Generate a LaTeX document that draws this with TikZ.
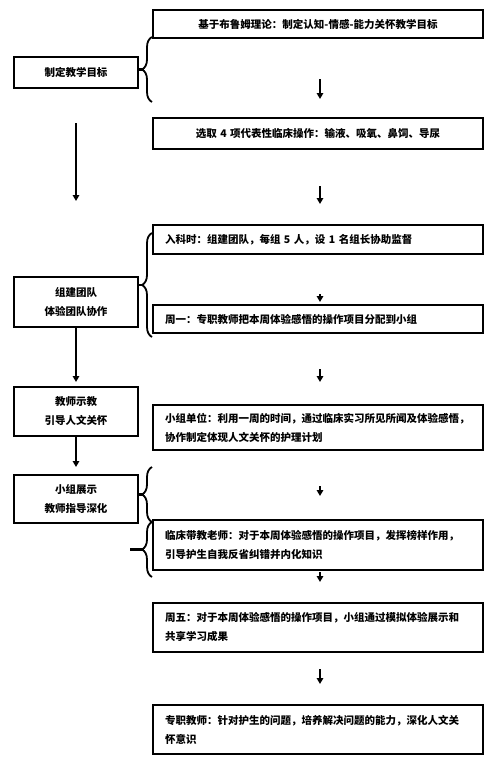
\documentclass[tikz,border=0pt]{standalone}
\usepackage{fontspec}
\setmainfont{Noto Sans CJK SC}
\usetikzlibrary{arrows.meta,decorations.pathreplacing}

\begin{document}
\begin{tikzpicture}[
    x=1pt,y=-1pt,
    >={Triangle[length=6pt,width=6.5pt]},
    box/.style={rectangle,draw,line width=2pt,inner ysep=0pt},
    rbox/.style={box,text width=306pt,inner xsep=12pt,align=left},
    cbox/.style={rbox,align=center},
    lbox/.style={box,minimum width=124pt,align=center},
    arr/.style={->,line width=1.8pt},
    brc/.style={decorate,decoration={brace,amplitude=10pt},line width=1.8pt},
    stub/.style={line width=2.2pt},
    every node/.style={font=\fontsize{10.5}{19}\selectfont\bfseries}]
  \useasboundingbox (0,0) rectangle (495,761);
  % ---- right column: steps ----
  \node[cbox,minimum height=28pt] (r1) at (318,24) {基于布鲁姆理论：制定认知-情感-能力关怀教学目标};
  \node[cbox,minimum height=31pt] (r2) at (318,133.5) {选取 4 项代表性临床操作：输液、吸氧、鼻饲、导尿};
  \node[rbox,minimum height=29pt] (r3) at (318,239.5) {入科时：组建团队，每组 5 人，设 1 名组长协助监督};
  \node[rbox,minimum height=28pt] (r4) at (318,319) {周一：专职教师把本周体验感悟的操作项目分配到小组};
  \node[rbox,minimum height=45pt] (r5) at (318,427.5) {小组单位：利用一周的时间，通过临床实习所见所闻及体验感悟，\\协作制定体现人文关怀的护理计划};
  \node[rbox,minimum height=50pt] (r6) at (318,545) {临床带教老师：对于本周体验感悟的操作项目，发挥榜样作用，\\引导护生自我反省纠错并内化知识};
  \node[rbox,minimum height=49pt] (r7) at (318,627.5) {周五：对于本周体验感悟的操作项目，小组通过模拟体验展示和\\共享学习成果};
  \node[rbox,minimum height=49pt] (r8) at (318,729.5) {专职教师：针对护生的问题，培养解决问题的能力，深化人文关\\怀意识};
  % ---- left column: stages ----
  \node[lbox,minimum height=31pt] (l1) at (76,72.5) {制定教学目标};
  \node[lbox,minimum height=50pt] (l2) at (76,302) {组建团队\\体验团队协作};
  \node[lbox,minimum height=49pt] (l3) at (76,411.5) {教师示教\\引导人文关怀};
  \node[lbox,minimum height=48pt] (l4) at (76,499) {小组展示\\教师指导深化};
  % right arrows (floating between boxes)
  \draw[arr] ([xshift=2pt,yshift=-40pt]r1.south) -- ([xshift=2pt,yshift=18pt]r2.north);
  \draw[arr] ([xshift=2pt,yshift=-36pt]r2.south) -- ([xshift=2pt,yshift=20pt]r3.north);
  \draw[arr] ([xshift=2pt,yshift=-39pt]r3.south) -- ([xshift=2pt,yshift=2pt]r4.north);
  \draw[arr] ([xshift=2pt,yshift=-35pt]r4.south) -- ([xshift=2pt,yshift=22pt]r5.north);
  \draw[arr] ([xshift=2pt,yshift=-35pt]r5.south) -- ([xshift=2pt,yshift=23pt]r6.north);
  \draw[arr] ([xshift=2pt,yshift=-1pt]r6.south) -- ([xshift=2pt,yshift=20pt]r7.north);
  \draw[arr] ([xshift=2pt,yshift=-16pt]r7.south) -- ([xshift=2pt,yshift=20pt]r8.north);
  % left arrows
  \draw[arr] ([yshift=-34pt]l1.south) -- ([yshift=75pt]l2.north);
  \draw[arr] (l2.south) -- ([yshift=4pt]l3.north);
  \draw[arr] (l3.south) -- ([yshift=7pt]l4.north);
  % ---- braces and their tips ----
  \coordinate (b1t) at (152,37);  \coordinate (b1b) at (152,102); \coordinate (k1) at (142,69.5);
  \coordinate (b2t) at (152,233); \coordinate (b2b) at (152,337); \coordinate (k2) at (142,285);
  \coordinate (b3t) at (152,467); \coordinate (b3b) at (152,522); \coordinate (k3) at (142,494.5);
  \coordinate (b4t) at (152,522); \coordinate (b4b) at (152,577); \coordinate (k4) at (142,549.5);
  \coordinate (s4) at (130,549.5);  % loose stub end
  \draw[brc] (b1b) -- (b1t);
  \draw[brc] (b2b) -- (b2t);
  \draw[brc] (b3b) -- (b3t);
  \draw[brc] (b4b) -- (b4t);
  \draw[stub] (l1.east |- k1) -- (k1);
  \draw[stub] (l2.east |- k2) -- (k2);
  \draw[stub] (l4.east |- k3) -- (k3);
  \draw[stub] (s4) -- (k4);
\end{tikzpicture}
\end{document}
